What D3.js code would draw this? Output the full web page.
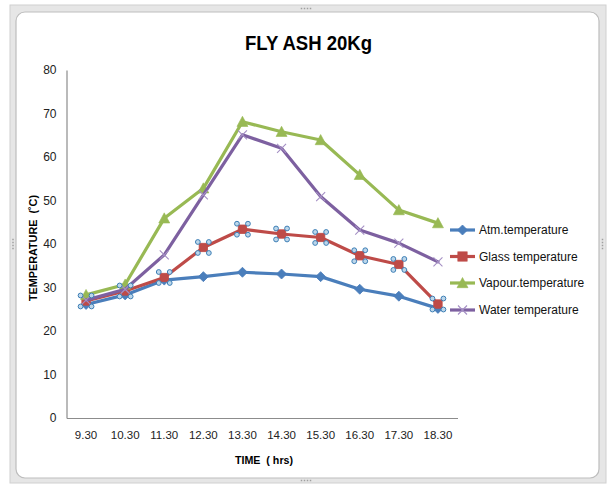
<!DOCTYPE html>
<html>
<head>
<meta charset="utf-8">
<script src="https://cdn.jsdelivr.net/npm/d3@7"></script>
<style>
  html, body { margin: 0; padding: 0; background: #ffffff; }
  svg { display: block; }
  text { font-family: "Liberation Sans", Arial, sans-serif; fill: #000; }
</style>
</head>
<body>
<svg id="chart" width="613" height="486"></svg>
<script>
// Time of reading (hrs)
const times = ["9.30", "10.30", "11.30", "12.30", "13.30", "14.30", "15.30", "16.30", "17.30", "18.30"];

// Temperatures in °C
const atmTemp    = [26.1, 28.3, 31.7, 32.5, 33.5, 33.1, 32.5, 29.6, 28.0, 25.2];
const glassTemp  = [26.9, 29.2, 32.3, 39.2, 43.4, 42.3, 41.5, 37.3, 35.3, 26.2];
const vapourTemp = [28.3, 30.7, 45.9, 52.8, 68.1, 65.8, 63.9, 55.9, 47.8, 44.8];
const waterTemp  = [27.1, 29.6, 37.5, 51.3, 65.1, 62.0, 50.9, 43.2, 40.2, 35.9];

const seriesNames = ["Atm.temperature", "Glass temperature", "Vapour.temperature", "Water temperature"];
const yTicks = [0, 10, 20, 30, 40, 50, 60, 70, 80];

const series = [
  { name: seriesNames[0], values: atmTemp,    color: "#4A7EBB", marker: "diamond" },
  { name: seriesNames[1], values: glassTemp,  color: "#BE4B48", marker: "square" },
  { name: seriesNames[2], values: vapourTemp, color: "#98B954", marker: "triangle" },
  { name: seriesNames[3], values: waterTemp,  color: "#7D60A0", marker: "cross" }
];

const svg = d3.select("#chart");

// ---- outer frame of the embedded chart object ----
svg.append("rect").attr("x", 10).attr("y", 5).attr("width", 596).attr("height", 478)
  .attr("fill", "#e6e6e6").attr("stroke", "#d0d0d0");
svg.append("rect").attr("x", 16).attr("y", 12).attr("width", 583).attr("height", 466)
  .attr("rx", 9).attr("fill", "#ffffff").attr("stroke", "#bdbdbd").attr("stroke-width", 1.2);

// grip dots on the frame edges
const grips = [
  { x: 306, y: 8.5, dir: "h" }, { x: 306, y: 480.5, dir: "h" },
  { x: 13, y: 244, dir: "v" }, { x: 602.5, y: 244, dir: "v" }
];
grips.forEach(g => {
  for (let i = -1.5; i <= 1.5; i++) {
    svg.append("rect")
      .attr("x", g.dir === "h" ? g.x + i * 3 - 0.75 : g.x - 0.75)
      .attr("y", g.dir === "v" ? g.y + i * 3 - 0.75 : g.y - 0.75)
      .attr("width", 1.5).attr("height", 1.5).attr("fill", "#a0a0a0");
  }
});

// ---- plot geometry ----
const plot = { left: 66.5, right: 457.5, top: 70, bottom: 418 };

const x = d3.scaleBand().domain(times).range([plot.left, plot.right]).padding(0);
const y = d3.scaleLinear().domain([0, 80]).range([plot.bottom, plot.top]);
const cx = t => x(t) + x.bandwidth() / 2;

// title
svg.append("text").attr("x", 308.5).attr("y", 50).attr("text-anchor", "middle")
  .attr("textLength", 127).attr("lengthAdjust", "spacingAndGlyphs")
  .style("font-size", "20px").style("font-weight", "bold").text("FLY ASH 20Kg");

// y axis
const yAxis = d3.axisLeft(y).tickValues(yTicks).tickSize(0).tickPadding(10);
const gy = svg.append("g").attr("transform", `translate(${plot.left},0)`).call(yAxis);
gy.select(".domain").attr("stroke", "#8c8c8c").attr("stroke-width", 1.2);
gy.selectAll("text").style("font-size", "12px").style("fill", "#222")
  .style("font-family", "'Liberation Sans', sans-serif");

// x axis
const xAxis = d3.axisBottom(x).tickSize(0).tickPadding(13);
const gx = svg.append("g").attr("transform", `translate(0,${plot.bottom})`).call(xAxis);
gx.select(".domain").attr("stroke", "#8c8c8c").attr("stroke-width", 1.2);
gx.selectAll("text").style("font-size", "11.5px").style("fill", "#222")
  .style("font-family", "'Liberation Sans Narrow', 'Liberation Sans', sans-serif");

// axis titles
svg.append("text").attr("transform", "translate(37,248) rotate(-90)").attr("text-anchor", "middle")
  .attr("textLength", 106).attr("lengthAdjust", "spacingAndGlyphs")
  .style("font-size", "11.5px").style("font-weight", "bold").text("TEMPERATURE\u00a0\u00a0(˚C)");
svg.append("text").attr("x", 264).attr("y", 464).attr("text-anchor", "middle")
  .attr("textLength", 58).attr("lengthAdjust", "spacingAndGlyphs")
  .style("font-size", "11px").style("font-weight", "bold").text("TIME\u00a0\u00a0( hrs)");

// ---- markers ----
function drawMarker(g, type, color, px, py, scale) {
  const s = scale || 1;
  if (type === "diamond") {
    const r = 5 * s;
    g.append("path").attr("d", `M${px},${py - r}L${px + r},${py}L${px},${py + r}L${px - r},${py}Z`)
      .attr("fill", color).attr("stroke", color).attr("stroke-width", 0.8);
  } else if (type === "square") {
    const r = 4.2 * s;
    g.append("rect").attr("x", px - r).attr("y", py - r).attr("width", 2 * r).attr("height", 2 * r)
      .attr("fill", color).attr("stroke", color).attr("stroke-width", 0.8);
  } else if (type === "triangle") {
    const r = 5.5 * s;
    g.append("path").attr("d", `M${px},${py - r}L${px + r},${py + r * 0.85}L${px - r},${py + r * 0.85}Z`)
      .attr("fill", color).attr("stroke", color).attr("stroke-width", 0.6);
  } else if (type === "cross") {
    const r = 4.5 * s;
    g.append("path").attr("d", `M${px - r},${py - r}L${px + r},${py + r}M${px - r},${py + r}L${px + r},${py - r}`)
      .attr("stroke", "#a48fc4").attr("stroke-width", 1.1).attr("fill", "none");
  }
}

const line = d3.line().x((d, i) => cx(times[i])).y(d => y(d));

series.forEach(s => {
  const g = svg.append("g");
  g.append("path").datum(s.values).attr("d", line)
    .attr("fill", "none").attr("stroke", s.color).attr("stroke-width", 3.2)
    .attr("stroke-linejoin", "round").attr("stroke-linecap", "round");
  s.values.forEach((v, i) => drawMarker(g, s.marker, s.color, cx(times[i]), y(v)));
});

// selection handles around the glass series points
const handles = svg.append("g");
glassTemp.forEach((v, i) => {
  const px = cx(times[i]), py = y(v);
  [[-5.5, -5.5], [5.5, -5.5], [-5.5, 5.5], [5.5, 5.5]].forEach(([dx, dy]) => {
    handles.append("circle").attr("cx", px + dx).attr("cy", py + dy).attr("r", 2.4)
      .attr("fill", "#bcd6ea").attr("stroke", "#3d7fb6").attr("stroke-width", 1);
  });
});

// ---- legend ----
const legendRows = [230, 256.5, 283, 310];
const legend = svg.append("g");
series.forEach((s, i) => {
  const ly = legendRows[i];
  legend.append("line").attr("x1", 450).attr("x2", 475).attr("y1", ly).attr("y2", ly)
    .attr("stroke", s.color).attr("stroke-width", 3.2);
  drawMarker(legend, s.marker, s.color, 462.5, ly, s.marker === "square" ? 1.1 : 1);
  legend.append("text").attr("x", 479).attr("y", ly + 4.2)
    .style("font-size", "12px").style("fill", "#111")
    .style("font-family", "'Liberation Sans Narrow', 'Liberation Sans', sans-serif")
    .text(s.name);
});
</script>
</body>
</html>
